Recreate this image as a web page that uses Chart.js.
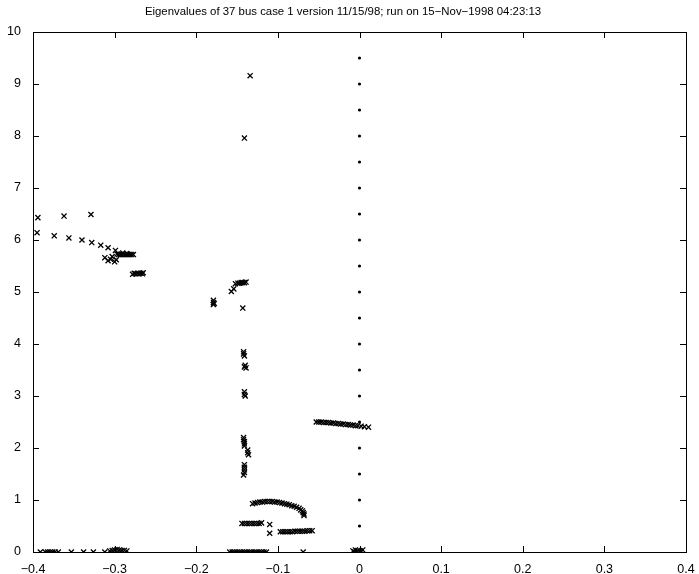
<!DOCTYPE html>
<html>
<head>
<meta charset="utf-8">
<script src="https://cdn.jsdelivr.net/npm/chart.js@4"></script>
<style>
  html, body { margin: 0; padding: 0; background: #fff; }
  #wrap { width: 699px; height: 574px; }
</style>
</head>
<body>
<div id="wrap"><canvas id="chart-1"></canvas></div>
<script>
// eigenvalues (real part, imaginary part) plotted with 'x'
const eigRe = [
  -0.394, -0.362, -0.329,
  -0.395, -0.374, -0.356, -0.340, -0.328, -0.317, -0.308, -0.299,
  -0.312, -0.308, -0.305, -0.303, -0.300, -0.298,
  -0.297, -0.295, -0.293, -0.291, -0.289, -0.287, -0.285, -0.283, -0.281, -0.279, -0.277, -0.290, -0.285,
  -0.278, -0.276, -0.274, -0.272, -0.270, -0.268, -0.266, -0.265,
  -0.134, -0.141,
  -0.152, -0.149, -0.147, -0.145, -0.143, -0.141, -0.139,
  -0.157, -0.154,
  -0.179, -0.179, -0.179, -0.178,
  -0.143,
  -0.142, -0.142, -0.141,
  -0.140, -0.139, -0.141,
  -0.141, -0.141, -0.140,
  -0.142, -0.142, -0.141, -0.141, -0.141,
  -0.137, -0.137, -0.136,
  -0.141, -0.141, -0.141, -0.141, -0.142,
  -0.131, -0.128, -0.125, -0.122, -0.119, -0.116, -0.113, -0.110, -0.107, -0.104, -0.101, -0.098, -0.095,
  -0.092, -0.089, -0.086, -0.083, -0.080, -0.077, -0.074, -0.072, -0.070, -0.069, -0.068, -0.068,
  -0.144, -0.141, -0.138, -0.135, -0.132, -0.129, -0.126, -0.123, -0.120, -0.110, -0.110,
  -0.097, -0.094, -0.091, -0.088, -0.085, -0.082, -0.079, -0.076, -0.073, -0.070, -0.067, -0.064, -0.061, -0.058,
  -0.053, -0.050, -0.047, -0.044, -0.041, -0.038, -0.035, -0.032, -0.029, -0.026, -0.023, -0.020, -0.017,
  -0.014, -0.011, -0.008, -0.005, -0.002, 0.002, 0.006, 0.011,
  -0.391, -0.385, -0.382, -0.379, -0.376, -0.373, -0.369, -0.353, -0.338, -0.326, -0.312,
  -0.306, -0.303, -0.300, -0.297, -0.294, -0.291, -0.288, -0.285,
  -0.159, -0.156, -0.153, -0.150, -0.147, -0.144, -0.141, -0.138, -0.135, -0.132, -0.129, -0.126,
  -0.123, -0.120, -0.117, -0.114, -0.069,
  -0.008, -0.005, -0.002, 0.001, 0.004, -0.006, 0.002
];
const eigIm = [
  6.43, 6.46, 6.49,
  6.14, 6.08, 6.04, 6.00, 5.95, 5.90, 5.85, 5.80,
  5.66, 5.60, 5.63, 5.68, 5.58, 5.62,
  5.73, 5.72, 5.72, 5.72, 5.72, 5.72, 5.72, 5.72, 5.72, 5.72, 5.72, 5.75, 5.74,
  5.34, 5.36, 5.35, 5.36, 5.35, 5.36, 5.35, 5.37,
  9.16, 7.96,
  5.16, 5.17, 5.17, 5.18, 5.18, 5.18, 5.19,
  5.01, 5.06,
  4.84, 4.80, 4.76, 4.78,
  4.69,
  3.85, 3.81, 3.77,
  3.59, 3.54, 3.56,
  3.08, 3.03, 3.00,
  2.20, 2.16, 2.12, 2.08, 2.04,
  1.96, 1.91, 1.87,
  1.68, 1.63, 1.58, 1.53, 1.48,
  0.93, 0.94, 0.95, 0.96, 0.96, 0.97, 0.97, 0.97, 0.97, 0.96, 0.96, 0.95, 0.94,
  0.93, 0.92, 0.91, 0.89, 0.88, 0.86, 0.84, 0.81, 0.79, 0.76, 0.73, 0.70,
  0.55, 0.55, 0.55, 0.55, 0.55, 0.55, 0.55, 0.55, 0.56, 0.53, 0.36,
  0.39, 0.39, 0.39, 0.39, 0.39, 0.39, 0.40, 0.40, 0.40, 0.40, 0.40, 0.41, 0.41, 0.41,
  2.50, 2.50, 2.50, 2.49, 2.49, 2.49, 2.48, 2.48, 2.47, 2.47, 2.46, 2.46, 2.45,
  2.45, 2.44, 2.44, 2.43, 2.43, 2.42, 2.41, 2.40,
  0, 0, 0, 0, 0, 0, 0, 0, 0, 0, 0,
  0.02, 0.03, 0.04, 0.05, 0.04, 0.03, 0.03, 0.02,
  0, 0, 0, 0, 0, 0, 0, 0, 0, 0, 0, 0,
  0, 0, 0, 0, 0,
  0.02, 0.04, 0.03, 0.02, 0.04, 0, 0
];
// reference dots on the imaginary axis
const dotY = [0.5, 1, 1.5, 2, 2.5, 3, 3.5, 4, 4.5, 5, 5.5, 6, 6.5, 7, 7.5, 8, 8.5, 9, 9.5];
const xTicks = [-0.4, -0.3, -0.2, -0.1, 0, 0.1, 0.2, 0.3, 0.4];
const yTicks = [0, 1, 2, 3, 4, 5, 6, 7, 8, 9, 10];
const chartTitle = "Eigenvalues of 37 bus case 1 version 11/15/98; run on 15\u2212Nov\u22121998 04:23:13";

const fontFamily = "'Liberation Sans', Arial, sans-serif";

// box around the axes plus inward tick marks on every side
const boxTicks = {
  id: "boxTicks",
  afterDraw(chart) {
    const ctx = chart.ctx;
    const a = chart.chartArea;
    const xs = chart.scales.x;
    const ys = chart.scales.y;
    const len = 6;
    ctx.save();
    ctx.strokeStyle = "#000";
    ctx.lineWidth = 1;
    ctx.beginPath();
    xTicks.forEach((v) => {
      const px = Math.round(xs.getPixelForValue(v)) + 0.5;
      ctx.moveTo(px, a.bottom);
      ctx.lineTo(px, a.bottom - len);
      ctx.moveTo(px, a.top);
      ctx.lineTo(px, a.top + len);
    });
    yTicks.forEach((v) => {
      const py = Math.round(ys.getPixelForValue(v)) + 0.5;
      ctx.moveTo(a.left, py);
      ctx.lineTo(a.left + len, py);
      ctx.moveTo(a.right, py);
      ctx.lineTo(a.right - len, py);
    });
    ctx.stroke();
    ctx.strokeRect(Math.round(a.left) + 0.5, Math.round(a.top) + 0.5,
      Math.round(a.right - a.left), Math.round(a.bottom - a.top));
    ctx.restore();
  },
};

const mychart = new Chart(document.querySelector("#chart-1"), {
  type: "scatter",
  data: {
    datasets: [
      {
        label: "eig",
        data: eigRe.map((re, i) => ({ x: re, y: eigIm[i] })),
        pointStyle: "crossRot",
        pointRadius: 3.6,
        borderColor: "#000",
        borderWidth: 1.3,
      },
      {
        label: "dots",
        data: dotY.map((y) => ({ x: 0, y: y })),
        pointStyle: "circle",
        pointRadius: 1.6,
        backgroundColor: "#000",
        borderColor: "#000",
        borderWidth: 0,
      },
    ],
  },
  plugins: [boxTicks],
  options: {
    responsive: true,
    maintainAspectRatio: false,
    animation: false,
    events: [],
    layout: { padding: { left: 0, right: 13, top: 0, bottom: 0 } },
    plugins: {
      legend: { display: false },
      tooltip: { enabled: false },
      title: {
        display: true,
        text: chartTitle,
        color: "#000",
        font: { family: fontFamily, size: 11.4, weight: "normal", lineHeight: 1.2 },
        padding: { top: 5, bottom: 13.3 },
      },
    },
    scales: {
      x: {
        type: "linear",
        min: -0.4,
        max: 0.4,
        afterBuildTicks: (scale) => {
          scale.ticks = xTicks.map((v) => ({ value: v }));
        },
        afterFit: (scale) => {
          scale.height = 22;
        },
        grid: { display: false },
        border: { display: false },
        ticks: {
          color: "#000",
          padding: 2,
          maxRotation: 0,
          font: { family: fontFamily, size: 12.5 },
          callback: (v) => (v === 0 ? "0" : String(Math.round(v * 10) / 10).replace("-", "\u2212")),
        },
      },
      y: {
        type: "linear",
        min: 0,
        max: 10,
        afterBuildTicks: (scale) => {
          scale.ticks = yTicks.map((v) => ({ value: v }));
        },
        afterFit: (scale) => {
          scale.width = 33;
        },
        grid: { display: false },
        border: { display: false },
        ticks: {
          color: "#000",
          padding: 4,
          font: { family: fontFamily, size: 12.5 },
        },
      },
    },
  },
});
mychart.update();
</script>
</body>
</html>
